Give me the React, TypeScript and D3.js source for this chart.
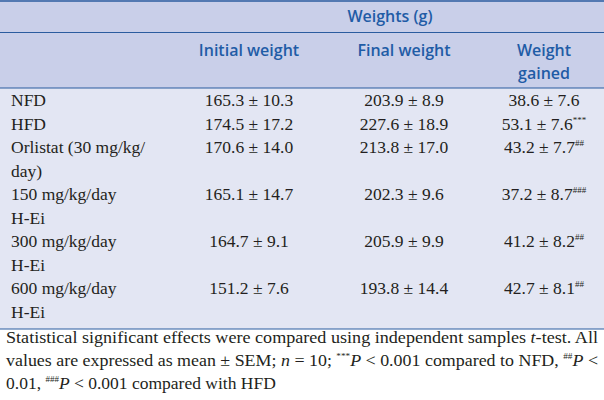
import React from "react";
import * as d3 from "d3";

const groupLabels: string[][] = [
  ["NFD"],
  ["HFD"],
  ["Orlistat (30 mg/kg/", "day)"],
  ["150 mg/kg/day", "H-Ei"],
  ["300 mg/kg/day", "H-Ei"],
  ["600 mg/kg/day", "H-Ei"],
];
const initialWeight = ["165.3 ± 10.3", "174.5 ± 17.2", "170.6 ± 14.0", "165.1 ± 14.7", "164.7 ± 9.1", "151.2 ± 7.6"];
const finalWeight = ["203.9 ± 8.9", "227.6 ± 18.9", "213.8 ± 17.0", "202.3 ± 9.6", "205.9 ± 9.9", "193.8 ± 14.4"];
const weightGained = ["38.6 ± 7.6", "53.1 ± 7.6", "43.2 ± 7.7", "37.2 ± 8.7", "41.2 ± 8.2", "42.7 ± 8.1"];
const gainedMarks = ["", "***", "##", "###", "##", "##"];
const columnHeaders: string[][] = [["Initial weight"], ["Final weight"], ["Weight", "gained"]];
const spanHeader = "Weights (g)";
const columnKeys = ["initial", "final", "gained"];

const W = 604;
const H = 400;
const BLUE_LINE = "#2b5c9f";
const HEAD_TEXT = "#1f5ca6";
const HEAD_BG = "#c9cfe9";
const BODY_BG = "#e3e6f3";
const SERIF = "'Liberation Serif', 'Times New Roman', serif";
const SANS = "'Open Sans', 'Noto Sans', sans-serif";
const FS = 17.5;

export default function App() {
  let lineIdx = 0;
  const rowStart: number[] = groupLabels.map((g) => {
    const s = lineIdx;
    lineIdx += g.length;
    return s;
  });
  const y = d3.scaleLinear().domain([0, lineIdx - 1]).range([106, 318]);
  const x = d3.scaleOrdinal<string, number>().domain(columnKeys).range([249, 404, 544]);
  const cols = [initialWeight, finalWeight, weightGained];

  return (
    <div style={{ position: "fixed", left: 0, top: 0, width: W, height: H, background: "#fff" }}>
      <svg width={W} height={H} viewBox={`0 0 ${W} ${H}`} style={{ display: "block" }}>
        <rect x={0} y={0} width={W} height={88} fill={HEAD_BG} />
        <rect x={0} y={88} width={W} height={241} fill={BODY_BG} />
        <line x1={0} x2={W} y1={1} y2={1} stroke={BLUE_LINE} strokeWidth={1.5} />
        <line x1={0} x2={W} y1={32.5} y2={32.5} stroke={BLUE_LINE} strokeWidth={1.2} />
        <line x1={0} x2={W} y1={88} y2={88} stroke={BLUE_LINE} strokeWidth={1.2} />
        <line x1={0} x2={W} y1={329} y2={329} stroke={BLUE_LINE} strokeWidth={1.2} />

        <text x={390} y={22} textAnchor="middle" fontFamily={SANS} fontWeight={600} fontSize={16} fill={HEAD_TEXT}>
          {spanHeader}
        </text>
        {columnHeaders.map((lines, ci) =>
          lines.map((ln, li) => (
            <text
              key={`h${ci}-${li}`}
              x={x(columnKeys[ci])}
              y={56 + li * 23}
              textAnchor="middle"
              fontFamily={SANS}
              fontWeight={600}
              fontSize={16}
              fill={HEAD_TEXT}
            >
              {ln}
            </text>
          ))
        )}

        {groupLabels.map((lines, gi) =>
          lines.map((ln, li) => (
            <text key={`g${gi}-${li}`} x={11} y={y(rowStart[gi] + li)} fontFamily={SERIF} fontSize={FS} fill="#231f20">
              {ln}
            </text>
          ))
        )}

        {cols.map((vals, ci) =>
          vals.map((v, ri) => (
            <text
              key={`c${ci}-${ri}`}
              x={x(columnKeys[ci])}
              y={y(rowStart[ri])}
              textAnchor="middle"
              fontFamily={SERIF}
              fontSize={FS}
              fill="#231f20"
            >
              {v}
              {ci === 2 && gainedMarks[ri] ? (
                <tspan fontSize={9} dy={-7}>
                  {gainedMarks[ri]}
                </tspan>
              ) : null}
            </text>
          ))
        )}

        <g fontFamily={SERIF} fontSize={FS} fill="#231f20">
          <text x={6} y={343} textLength={592} lengthAdjust="spacingAndGlyphs">
            Statistical significant effects were compared using independent samples <tspan fontStyle="italic">t</tspan>-test. All
          </text>
          <text x={6} y={366} textLength={592} lengthAdjust="spacingAndGlyphs">
            values are expressed as mean ± SEM; <tspan fontStyle="italic">n</tspan> = 10;{" "}
            <tspan fontSize={9} dy={-7}>***</tspan>
            <tspan fontStyle="italic" dy={7}>P</tspan> &lt; 0.001 compared to NFD,{" "}
            <tspan fontSize={9} dy={-7}>##</tspan>
            <tspan fontStyle="italic" dy={7}>P</tspan> &lt;
          </text>
          <text x={6} y={389}>
            0.01, <tspan fontSize={9} dy={-7}>###</tspan>
            <tspan fontStyle="italic" dy={7}>P</tspan> &lt; 0.001 compared with HFD
          </text>
        </g>
      </svg>
    </div>
  );
}
